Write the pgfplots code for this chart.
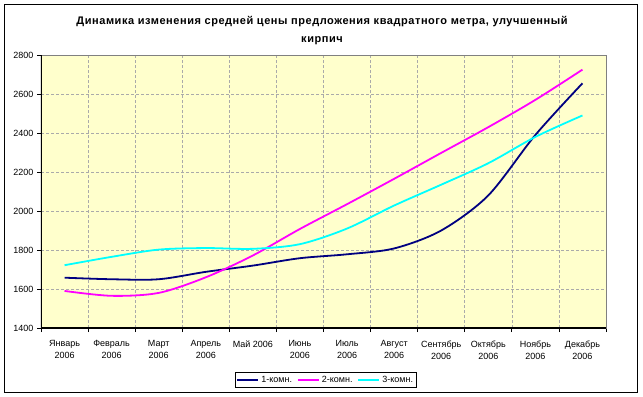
\documentclass[border=0pt]{standalone}
\usepackage{fontspec}
\setmainfont{Liberation Sans}
\newfontfamily\titlefont[LetterSpace=5]{Liberation Sans}
\usepackage{pgfplots}
\pgfplotsset{compat=1.18}
\definecolor{plotbg}{RGB}{255,255,204}
\definecolor{gridc}{RGB}{170,170,170}
\definecolor{navyc}{RGB}{0,0,128}
\definecolor{magc}{RGB}{255,0,255}
\definecolor{cyac}{RGB}{0,255,255}
\begin{document}
\begin{tikzpicture}
\useasboundingbox (0,0) rectangle (643bp,-397bp);
\draw[line width=1bp] (4.5bp,-4.5bp) rectangle (637.5bp,-392.5bp);
\node[font=\titlefont\fontsize{11bp}{17.5bp}\selectfont\bfseries, align=center] at (322bp,-30.5bp) {Динамика изменения средней цены предложения квадратного метра, улучшенный\\кирпич};
\begin{axis}[
  at={(41bp,-328bp)}, anchor=south west,
  scale only axis, width=565bp, height=273bp,
  xmin=-0.5, xmax=11.5, ymin=1400, ymax=2800,
  axis background/.style={fill=plotbg},
  axis line style={draw=gray, line width=0.6bp},
  ytick={1400,1600,...,2800},
  xtick={0,...,11},
  xticklabels={{Январь\\2006},{Февраль\\2006},{Март\\2006},{Апрель\\2006},{Май 2006},{Июнь\\2006},{Июль\\2006},{Август\\2006},{Сентябрь\\2006},{Октябрь\\2006},{Ноябрь\\2006},{Декабрь\\2006}},
  minor xtick={-0.5,0.5,...,11.5},
  major x tick style={draw=none},
  xtick pos=bottom, ytick pos=left,
  tick align=outside,
  major tick length=4bp, minor tick length=4bp,
  tick style={black, line width=0.8bp},
  ymajorgrids, xminorgrids,
  major grid style={gridc, dash pattern=on 3bp off 2bp, line width=0.6bp},
  minor grid style={gridc, dash pattern=on 3bp off 2bp, line width=0.6bp},
  /pgf/number format/assume math mode=true,
  /pgf/number format/1000 sep={},
  yticklabel style={font=\fontsize{9bp}{10bp}\selectfont},
  xticklabel style={font=\fontsize{9bp}{12bp}\selectfont, align=center, yshift=-5bp},
  legend style={at={(0.504,-0.19)}, anchor=center, draw=black, line width=0.6bp,
    font=\fontsize{9bp}{10bp}\selectfont, inner sep=1.5bp,
    /tikz/every even column/.append style={column sep=3bp}},
  legend columns=3,
  legend image code/.code={\draw[#1] (0bp,0bp) -- (21bp,0bp);},
  every axis plot/.append style={line width=1.8bp, smooth},
]
\addplot[navyc] coordinates {(0,1658) (1,1650) (2,1650) (3,1688) (4,1720) (5,1758) (6,1778) (7,1808) (8,1900) (9,2080) (10,2390) (11,2655)};
\addplot[magc] coordinates {(0,1590) (1,1565) (2,1580) (3,1660) (4,1772) (5,1908) (6,2035) (7,2165) (8,2298) (9,2430) (10,2570) (11,2725)};
\addplot[cyac] coordinates {(0,1722) (1,1765) (2,1802) (3,1810) (4,1806) (5,1830) (6,1910) (7,2028) (8,2135) (9,2245) (10,2380) (11,2490)};
\legend{1-комн.,2-комн.,3-комн.}
\draw[black, line width=1.5bp] (rel axis cs:0,1) -- (rel axis cs:0,0) -- (rel axis cs:1,0);
\end{axis}
\end{tikzpicture}
\end{document}
